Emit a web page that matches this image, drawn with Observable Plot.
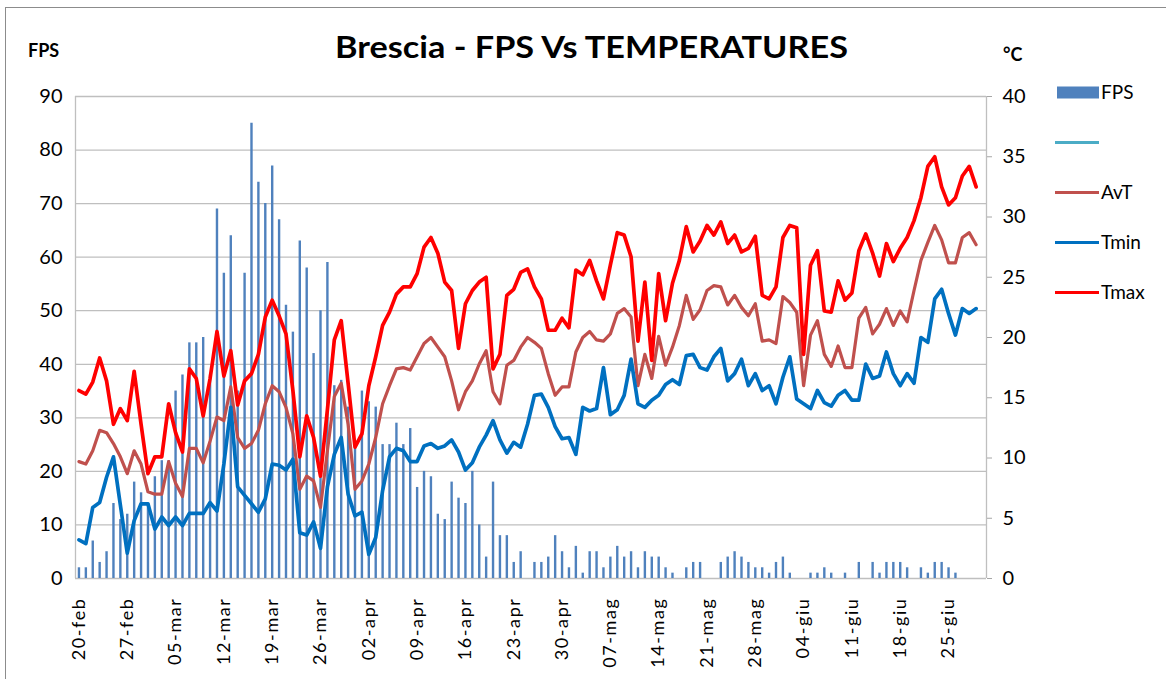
<!DOCTYPE html>
<html>
<head>
<meta charset="utf-8">
<script src="https://cdn.jsdelivr.net/npm/d3@7"></script>
<script src="https://cdn.jsdelivr.net/npm/@observablehq/plot@0.6"></script>
<style>
  html, body { margin: 0; padding: 0; background: #fff; }
  #wrap { position: relative; width: 1166px; height: 679px; overflow: hidden; }
  #chart, #overlay { position: absolute; left: 0; top: 0; }
  #overlay { pointer-events: none; }
  #chart g[aria-label="x-axis tick label"] text { letter-spacing: 1.6px; }
</style>
</head>
<body>
<div id="wrap">
  <div id="chart"></div>
  <svg id="overlay" width="1166" height="679" font-family="Lato, 'Liberation Sans', sans-serif">
    <rect x="5.5" y="7.5" width="1200" height="700" fill="none" stroke="#8c8c8c" stroke-width="1"></rect>
    <text x="335" y="58" font-size="30" font-weight="700" fill="#000" textLength="513" lengthAdjust="spacingAndGlyphs">Brescia - FPS Vs TEMPERATURES</text>
    <text x="28" y="57" font-size="18" font-weight="700" fill="#000">FPS</text>
    <text x="1003" y="61" font-size="18" font-weight="700" fill="#000">°C</text>
    <g id="legend" font-size="19" fill="#000"></g>
  </svg>
</div>
<script>
// ---- data (20-feb-2020 … 29-giu-2020, one value per day) ----
const tickLabels = ["20-feb","27-feb","05-mar","12-mar","19-mar","26-mar","02-apr","09-apr","16-apr","23-apr","30-apr","07-mag","14-mag","21-mag","28-mag","04-giu","11-giu","18-giu","25-giu"];

const fps = [
  2,2,7,3,5,14,11,12,18,16,
  14,19,22,22,35,38,44,44,45,38,
  69,57,64,35,57,85,74,70,77,67,
  51,46,63,58,42,50,59,36,37,32,
  25,35,33,32,25,25,29,25,28,17,
  20,19,12,11,18,15,14,20,10,4,
  18,8,8,3,5,0,3,3,4,8,
  5,2,6,1,5,5,2,4,6,4,
  5,2,5,4,4,2,1,0,2,3,
  3,0,0,3,4,5,4,3,2,2,
  1,3,4,1,0,0,1,1,2,1,
  0,1,0,3,0,3,1,3,3,3,
  2,0,2,1,3,3,2,1,0,0,
  0
];

const tmax = [
  15.6,15.3,16.3,18.3,16.4,12.8,14.1,13.1,17.2,12.8,
  8.7,10.1,10.1,14.5,12.1,10.5,17.4,16.6,13.5,16.6,
  20.5,16.8,18.9,14.4,16.4,17.0,18.6,21.7,23.1,21.8,
  20.3,15.6,10.1,13.5,11.7,8.5,14.0,19.8,21.4,16.2,
  10.9,12.0,16.0,18.4,21.0,22.1,23.6,24.2,24.2,25.3,
  27.5,28.3,27.0,24.6,23.9,19.1,22.8,23.9,24.6,25.0,
  17.4,18.6,23.5,24.0,25.4,25.7,24.2,23.2,20.6,20.6,
  21.6,20.8,25.6,25.2,26.4,24.7,23.2,26.0,28.7,28.5,
  26.7,19.7,24.6,18.1,25.3,21.4,24.5,26.4,29.2,27.1,
  28.0,29.3,28.5,29.6,27.8,28.5,27.1,27.4,28.4,23.5,
  23.2,24.2,28.3,29.3,29.1,18.6,26.0,27.2,22.2,22.1,
  24.7,23.1,23.7,27.2,28.6,27.0,25.1,27.8,26.3,27.4,
  28.3,29.7,31.6,34.2,35.0,32.5,31.0,31.6,33.4,34.2,
  32.5
];

const tavg = [
  9.7,9.5,10.6,12.3,12.1,11.2,10.1,8.7,10.6,9.5,
  7.2,7.0,7.0,9.7,7.9,6.8,10.8,10.8,9.6,11.4,
  13.4,13.1,15.9,11.7,10.8,11.2,12.3,14.5,16.0,15.5,
  14.2,12.0,7.4,8.5,8.1,5.9,10.6,15.1,16.2,12.8,
  7.4,8.1,9.5,11.7,14.5,16.0,17.4,17.5,17.3,18.4,
  19.5,20.0,19.2,18.4,16.4,14.0,15.5,16.4,17.8,18.9,
  15.5,14.5,17.7,18.1,19.2,20.0,19.6,19.1,17.0,15.2,
  15.9,15.9,18.8,20.0,20.5,19.8,19.7,20.3,22.0,22.4,
  21.7,16.0,18.6,16.6,20.1,17.7,19.2,21.0,23.5,21.5,
  22.3,23.9,24.3,24.2,22.7,23.5,22.5,21.8,22.8,19.7,
  19.8,19.5,23.4,22.9,22.1,16.0,20.2,21.4,18.6,17.6,
  19.3,17.5,17.5,21.6,22.5,20.3,21.1,22.4,21.0,22.2,
  21.3,23.9,26.4,27.9,29.3,28.1,26.2,26.2,28.3,28.7,
  27.7
];

const tmin = [
  3.2,2.9,5.9,6.3,8.4,10.1,6.1,2.1,4.8,6.2,
  6.2,4.1,5.1,4.4,5.1,4.4,5.4,5.4,5.4,6.3,
  5.6,9.5,14.2,7.6,6.9,6.2,5.5,6.6,9.5,9.4,
  9.0,9.9,3.8,3.6,4.7,2.5,7.6,10.3,11.7,7.0,
  5.2,5.5,2.0,3.4,7.3,10.1,10.8,10.6,9.7,9.7,
  11.0,11.2,10.8,11.0,11.5,10.5,9.0,9.6,10.9,11.9,
  13.1,11.5,10.4,11.3,10.9,12.8,15.2,15.3,14.2,12.6,
  11.6,11.7,10.3,14.2,13.9,14.1,17.5,13.6,14.0,15.2,
  18.2,14.5,14.2,14.8,15.2,16.1,16.5,16.1,18.5,18.6,
  17.5,17.3,18.4,19.1,16.4,17.0,18.2,16.0,17.0,15.6,
  16.0,14.5,16.7,18.4,14.9,14.5,14.1,15.6,14.6,14.3,
  15.2,15.6,14.8,14.8,17.8,16.6,16.8,18.8,17.0,16.0,
  17.0,16.2,20.0,19.6,23.2,24.0,22.0,20.2,22.4,22.0,
  22.4
];

const fpsTicks = [0,10,20,30,40,50,60,70,80,90];
const tempTicks = [0,5,10,15,20,25,30,35,40];
const nCategories = 132;          // 20-feb … 30-giu
const series = [
  {name: "FPS",  color: "#4f81bd", kind: "bar"},
  {name: "",     color: "#4bacc6", kind: "line"},
  {name: "AvT",  color: "#c0504d", kind: "line"},
  {name: "Tmin", color: "#0070c0", kind: "line"},
  {name: "Tmax", color: "#ff0000", kind: "line"}
];

// ---- build ----
const k = 90 / 40;   // °C axis (0–40) mapped onto the FPS axis (0–90)
const rows = fps.map((v, i) => ({i, fps: v, tmin: tmin[i], tavg: tavg[i], tmax: tmax[i]}));
const xDomain = [-0.5, nCategories - 0.5];
const xTicks = tickLabels.map((_, j) => j * 7);

const chart = Plot.plot({
  width: 1166,
  height: 679,
  marginLeft: 75,
  marginRight: 180,
  marginTop: 96,
  marginBottom: 101,
  style: {fontFamily: "Lato, 'Liberation Sans', sans-serif", color: "#000", background: "transparent", overflow: "visible"},
  x: {type: "linear", domain: xDomain},
  y: {type: "linear", domain: [0, 90]},
  marks: [
    Plot.ruleY(fpsTicks, {stroke: "#bfbfbf", strokeWidth: 1.3}),
    Plot.ruleX(xDomain, {stroke: "#bfbfbf", strokeWidth: 1.3}),
    Plot.ruleX(rows.filter(d => d.fps > 0), {x: "i", y1: 0, y2: "fps", stroke: "#4f81bd", strokeWidth: 2.4}),
    Plot.lineY(rows, {x: "i", y: d => d.tavg * k, stroke: "#c0504d", strokeWidth: 3.2, strokeLinejoin: "round"}),
    Plot.lineY(rows, {x: "i", y: d => d.tmin * k, stroke: "#0070c0", strokeWidth: 3.7, strokeLinejoin: "round"}),
    Plot.lineY(rows, {x: "i", y: d => d.tmax * k, stroke: "#ff0000", strokeWidth: 3.7, strokeLinejoin: "round"}),
    Plot.axisY(fpsTicks, {anchor: "left", tickSize: 0, tickPadding: 13, fontSize: 20, label: null}),
    Plot.axisY(tempTicks.map(t => t * k), {anchor: "right", tickSize: 5, tickPadding: 11, fontSize: 20, label: null,
      tickFormat: d => String(Math.round(d / k)), stroke: "#a6a6a6"}),
    Plot.axisX(xTicks, {anchor: "bottom", tickSize: 0, tickPadding: 19, tickRotate: -90, fontSize: 18, label: null,
      tickFormat: d => tickLabels[Math.round(d / 7)]})
  ]
});
document.getElementById("chart").appendChild(chart);

// ---- legend ----
const ns = "http://www.w3.org/2000/svg";
const lg = document.getElementById("legend");
series.forEach((s, j) => {
  const yc = 92.5 + j * 50;
  if (s.kind === "bar") {
    const r = document.createElementNS(ns, "rect");
    r.setAttribute("x", 1057); r.setAttribute("y", yc - 6);
    r.setAttribute("width", 42); r.setAttribute("height", 12);
    r.setAttribute("fill", s.color);
    lg.appendChild(r);
  } else {
    const l = document.createElementNS(ns, "line");
    l.setAttribute("x1", 1055); l.setAttribute("x2", 1099);
    l.setAttribute("y1", yc); l.setAttribute("y2", yc);
    l.setAttribute("stroke", s.color); l.setAttribute("stroke-width", 3);
    lg.appendChild(l);
  }
  if (s.name) {
    const t = document.createElementNS(ns, "text");
    t.setAttribute("x", 1101); t.setAttribute("y", yc + 6.5);
    t.textContent = s.name;
    lg.appendChild(t);
  }
});
</script>
</body>
</html>
